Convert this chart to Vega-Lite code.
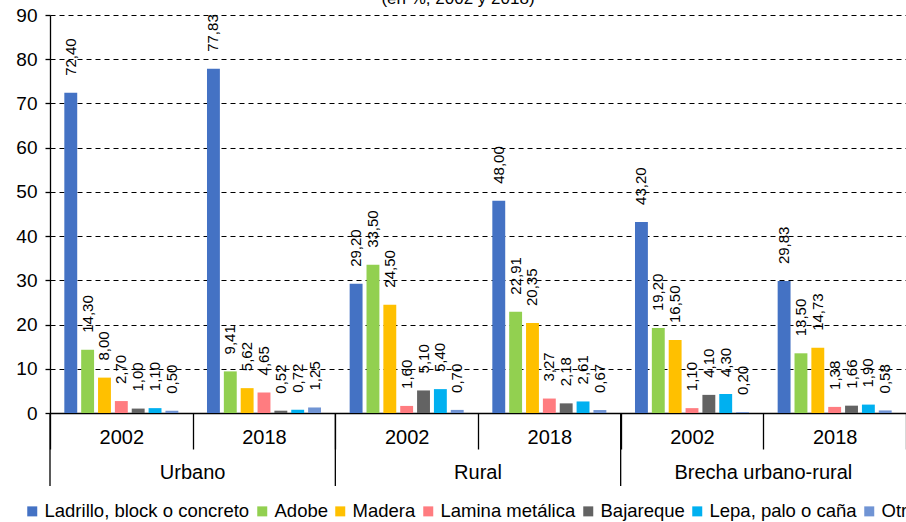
{
  "$schema": "https://vega.github.io/schema/vega-lite/v6.json",
  "width": 856,
  "height": 398,
  "autosize": {"type": "none"},
  "padding": {"left": 50, "top": 15, "right": 0, "bottom": 109},
  "background": "white",
  "title": {"text": "(en %, 2002 y 2018)", "fontSize": 17, "font": "Liberation Sans", "fontWeight": "normal", "baseline": "alphabetic", "offset": 2, "dy": 17, "dx": -20, "anchor": "middle", "color": "black"},
  "config": {
    "locale": {"number": {"decimal": ",", "thousands": ".", "grouping": [3], "currency": ["", " €"]}},
    "view": {"stroke": null},
    "font": "Liberation Sans",
    "axisY": {"domainColor": "black", "domainWidth": 1.3, "tickColor": "black", "tickSize": 5, "tickWidth": 1.3, "labelFontSize": 19, "labelColor": "black", "labelPadding": 8, "grid": true, "gridColor": "black", "gridDash": [5, 4], "gridWidth": 1.2, "gridOpacity": 1, "values": [0, 10, 20, 30, 40, 50, 60, 70, 80, 90], "title": null},
    "axisX": {"domainColor": "black", "domainWidth": 1.3, "tickBand": "extent", "tickSize": 36, "tickColor": "black", "tickWidth": 1.3, "labelFontSize": 20, "labelColor": "black", "labelPadding": -12, "labelBaseline": "middle", "labelAngle": 0, "grid": false, "title": null, "labelExpr": "substring(datum.label, length(datum.label) - 4)"}
  },
  "datasets": {
    "bars": [
      {"cat": "Urbano 2002", "material": "Ladrillo, block o concreto", "valor": 72.40},
      {"cat": "Urbano 2002", "material": "Adobe", "valor": 14.30},
      {"cat": "Urbano 2002", "material": "Madera", "valor": 8.00},
      {"cat": "Urbano 2002", "material": "Lamina metálica", "valor": 2.70},
      {"cat": "Urbano 2002", "material": "Bajareque", "valor": 1.00},
      {"cat": "Urbano 2002", "material": "Lepa, palo o caña", "valor": 1.10},
      {"cat": "Urbano 2002", "material": "Otro", "valor": 0.50},
      {"cat": "Urbano 2018", "material": "Ladrillo, block o concreto", "valor": 77.83},
      {"cat": "Urbano 2018", "material": "Adobe", "valor": 9.41},
      {"cat": "Urbano 2018", "material": "Madera", "valor": 5.62},
      {"cat": "Urbano 2018", "material": "Lamina metálica", "valor": 4.65},
      {"cat": "Urbano 2018", "material": "Bajareque", "valor": 0.52},
      {"cat": "Urbano 2018", "material": "Lepa, palo o caña", "valor": 0.72},
      {"cat": "Urbano 2018", "material": "Otro", "valor": 1.25},
      {"cat": "Rural 2002", "material": "Ladrillo, block o concreto", "valor": 29.20},
      {"cat": "Rural 2002", "material": "Adobe", "valor": 33.50},
      {"cat": "Rural 2002", "material": "Madera", "valor": 24.50},
      {"cat": "Rural 2002", "material": "Lamina metálica", "valor": 1.60},
      {"cat": "Rural 2002", "material": "Bajareque", "valor": 5.10},
      {"cat": "Rural 2002", "material": "Lepa, palo o caña", "valor": 5.40},
      {"cat": "Rural 2002", "material": "Otro", "valor": 0.70},
      {"cat": "Rural 2018", "material": "Ladrillo, block o concreto", "valor": 48.00},
      {"cat": "Rural 2018", "material": "Adobe", "valor": 22.91},
      {"cat": "Rural 2018", "material": "Madera", "valor": 20.35},
      {"cat": "Rural 2018", "material": "Lamina metálica", "valor": 3.27},
      {"cat": "Rural 2018", "material": "Bajareque", "valor": 2.18},
      {"cat": "Rural 2018", "material": "Lepa, palo o caña", "valor": 2.61},
      {"cat": "Rural 2018", "material": "Otro", "valor": 0.67},
      {"cat": "Brecha urbano-rural 2002", "material": "Ladrillo, block o concreto", "valor": 43.20},
      {"cat": "Brecha urbano-rural 2002", "material": "Adobe", "valor": 19.20},
      {"cat": "Brecha urbano-rural 2002", "material": "Madera", "valor": 16.50},
      {"cat": "Brecha urbano-rural 2002", "material": "Lamina metálica", "valor": 1.10},
      {"cat": "Brecha urbano-rural 2002", "material": "Bajareque", "valor": 4.10},
      {"cat": "Brecha urbano-rural 2002", "material": "Lepa, palo o caña", "valor": 4.30},
      {"cat": "Brecha urbano-rural 2002", "material": "Otro", "valor": 0.20},
      {"cat": "Brecha urbano-rural 2018", "material": "Ladrillo, block o concreto", "valor": 29.83},
      {"cat": "Brecha urbano-rural 2018", "material": "Adobe", "valor": 13.50},
      {"cat": "Brecha urbano-rural 2018", "material": "Madera", "valor": 14.73},
      {"cat": "Brecha urbano-rural 2018", "material": "Lamina metálica", "valor": 1.38},
      {"cat": "Brecha urbano-rural 2018", "material": "Bajareque", "valor": 1.66},
      {"cat": "Brecha urbano-rural 2018", "material": "Lepa, palo o caña", "valor": 1.90},
      {"cat": "Brecha urbano-rural 2018", "material": "Otro", "valor": 0.58}
    ],
    "zonas": [
      {"zona": "Urbano", "inicio": "Urbano 2002", "centro": "Urbano 2018"},
      {"zona": "Rural", "inicio": "Rural 2002", "centro": "Rural 2018"},
      {"zona": "Brecha urbano-rural", "inicio": "Brecha urbano-rural 2002", "centro": "Brecha urbano-rural 2018"}
    ]
  },
  "layer": [
    {
      "data": {"name": "bars"},
      "mark": {"type": "bar"},
      "encoding": {
        "x": {"field": "cat", "type": "nominal", "title": null, "scale": {"domain": ["Urbano 2002", "Urbano 2018", "Rural 2002", "Rural 2018", "Brecha urbano-rural 2002", "Brecha urbano-rural 2018"], "paddingInner": 0, "paddingOuter": 0}},
        "xOffset": {"field": "material", "type": "nominal", "sort": ["Ladrillo, block o concreto", "Adobe", "Madera", "Lamina metálica", "Bajareque", "Lepa, palo o caña", "Otro"], "scale": {"paddingInner": 0.235, "paddingOuter": 0.85}},
        "y": {"field": "valor", "type": "quantitative", "title": null, "scale": {"domain": [0, 90], "nice": false}},
        "color": {
          "field": "material", "type": "nominal",
          "scale": {"domain": ["Ladrillo, block o concreto", "Adobe", "Madera", "Lamina metálica", "Bajareque", "Lepa, palo o caña", "Otro"], "range": ["#4472C4", "#92D050", "#FFC000", "#FF7C80", "#636363", "#00B0F0", "#7094D4"]},
          "legend": {"orient": "none", "legendX": -27, "legendY": 487, "padding": 0, "direction": "horizontal", "columns": 7, "title": null, "symbolType": "square", "symbolSize": 100, "symbolStrokeWidth": 0, "labelFontSize": 18.5, "labelColor": "black", "columnPadding": 3, "labelOffset": 3, "labelLimit": 400}
        }
      }
    },
    {
      "data": {"name": "bars"},
      "mark": {"type": "text", "angle": 270, "align": "left", "baseline": "middle", "dx": 17, "fontSize": 15, "color": "black"},
      "encoding": {
        "x": {"field": "cat", "type": "nominal", "title": null},
        "xOffset": {"field": "material", "type": "nominal", "sort": ["Ladrillo, block o concreto", "Adobe", "Madera", "Lamina metálica", "Bajareque", "Lepa, palo o caña", "Otro"]},
        "y": {"field": "valor", "type": "quantitative", "title": null},
        "text": {"field": "valor", "type": "quantitative", "format": ".2f"}
      }
    },
    {
      "data": {"name": "zonas"},
      "mark": {"type": "rule", "color": "black", "strokeWidth": 1.3},
      "encoding": {
        "x": {"field": "inicio", "type": "nominal", "bandPosition": 0, "title": null},
        "y": {"datum": 0, "type": "quantitative", "title": null},
        "y2": {"datum": -16.5}
      }
    },
    {
      "data": {"name": "zonas"},
      "mark": {"type": "text", "fontSize": 20, "baseline": "middle", "align": "center", "color": "black"},
      "encoding": {
        "x": {"field": "centro", "type": "nominal", "bandPosition": 0, "title": null},
        "y": {"datum": -13.6, "type": "quantitative", "title": null},
        "text": {"field": "zona", "type": "nominal"}
      }
    }
  ]
}
